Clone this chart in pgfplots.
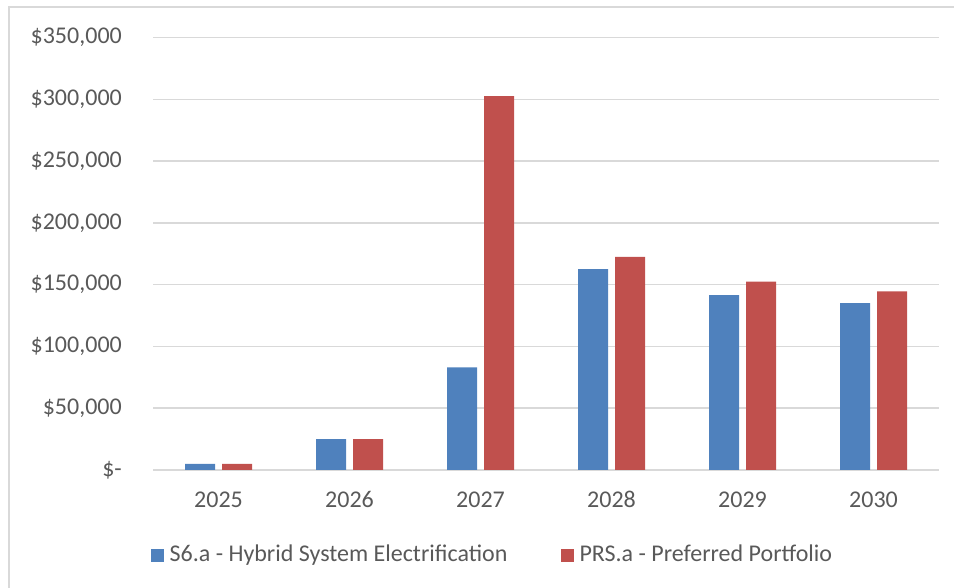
\documentclass[border=0pt]{standalone}
\usepackage{pgfplots}
\pgfplotsset{compat=1.18}
\usepackage{fontspec}
\setmainfont{Carlito}
\definecolor{barblue}{RGB}{79,129,189}
\definecolor{barred}{RGB}{192,80,77}
\definecolor{textgray}{RGB}{89,89,89}
\definecolor{gridgray}{RGB}{217,217,217}
\begin{document}
\fontsize{24bp}{28bp}\selectfont
\begin{tikzpicture}
\useasboundingbox (0,0) rectangle (954bp,588bp);
\draw[gridgray, line width=1.5bp] (9bp,0) -- (9bp,581bp) -- (954bp,581bp);
\begin{axis}[
  at={(153bp,118bp)}, anchor=south west,
  scale only axis,
  width=786bp, height=432.5bp,
  ybar=7bp, bar width=30bp,
  xmin=-0.5, xmax=5.5,
  ymin=0, ymax=350000,
  scaled y ticks=false,
  xtick={0,1,2,3,4,5},
  xticklabels={2025,2026,2027,2028,2029,2030},
  ytick={0,50000,100000,150000,200000,250000,300000,350000},
  yticklabels={{\$-\hspace{9bp}},{\$50,000},{\$100,000},{\$150,000},{\$200,000},{\$250,000},{\$300,000},{\$350,000}},
  axis line style={draw=none},
  major tick length=0pt,
  ymajorgrids,
  major grid style={gridgray, line width=1.5bp},
  tick label style={text=textgray, font=\fontsize{24bp}{28bp}\selectfont},
  yticklabel style={inner sep=0pt, anchor=east, xshift=-31bp},
  xticklabel style={inner sep=0pt, anchor=base, yshift=-38bp},
  legend columns=2,
  legend style={at={(-0.003,-0.197)}, anchor=west, draw=none, fill=none,
    inner sep=0pt, outer sep=0pt,
    font=\fontsize{24bp}{28bp}\selectfont,
    nodes={inner sep=0pt, text=textgray},
    /tikz/every odd column/.append style={column sep=6bp},
    /tikz/every even column/.append style={column sep=53bp}},
  legend image code/.code={\fill[#1] (0bp,-6.5bp) rectangle (13bp,6.5bp);},
]
\addplot[fill=barblue, draw=none] coordinates {(0,5000) (1,25000) (2,83000) (3,162500) (4,141500) (5,135000)};
\addplot[fill=barred, draw=none] coordinates {(0,5000) (1,25000) (2,302500) (3,172500) (4,152500) (5,144500)};
\legend{S6.a - Hybrid System Electrification, PRS.a - Preferred Portfolio}
\end{axis}
\end{tikzpicture}
\end{document}
